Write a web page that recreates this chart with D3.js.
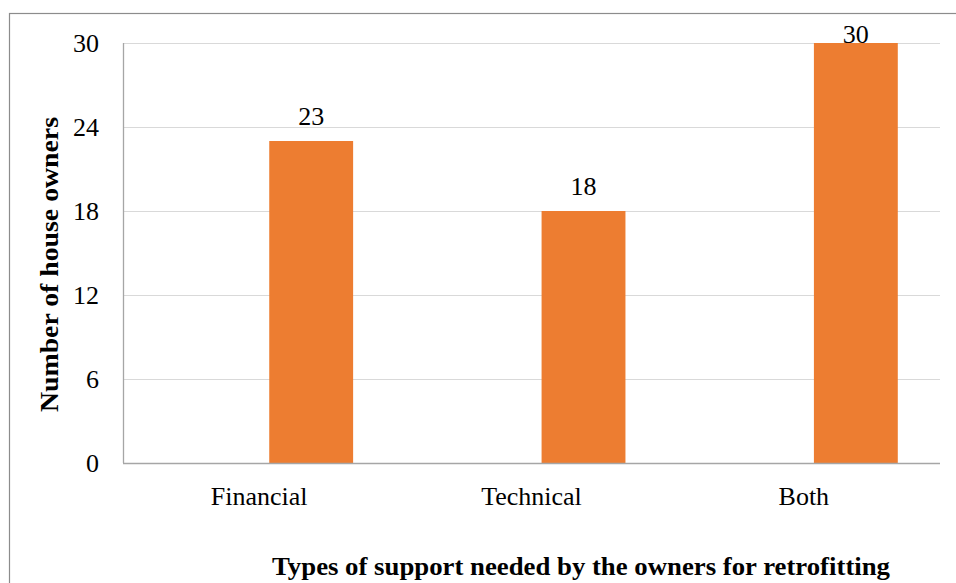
<!DOCTYPE html>
<html>
<head>
<meta charset="utf-8">
<script src="https://cdn.jsdelivr.net/npm/d3@7"></script>
<style>
  html, body { margin: 0; padding: 0; background: #fff; }
  svg { display: block; }
</style>
</head>
<body>
<svg id="chart" width="956" height="583"></svg>
<script>
const categories = ["Financial", "Technical", "Both"];
const values = [23, 18, 30];
const yTicks = [0, 6, 12, 18, 24, 30];
const xTitle = "Types of support needed by the owners for retrofitting";
const yTitle = "Number of house owners";

const FONT = "'Liberation Serif', 'Times New Roman', 'DejaVu Serif', serif";
const svg = d3.select("#chart");
const W = 956, H = 583;
const plot = { left: 123, right: 940, top: 43, bottom: 463 };

// outer frame
svg.append("rect")
  .attr("x", 9.5).attr("y", 13.5)
  .attr("width", W + 10).attr("height", H + 10)
  .attr("fill", "none").attr("stroke", "#8c8c8c").attr("stroke-width", 1.2);

const x = d3.scaleBand().domain(categories).range([plot.left, plot.right]).padding(0);
const y = d3.scaleLinear().domain([0, 30]).range([plot.bottom, plot.top]);

// gridlines
svg.append("g").selectAll("line").data(yTicks.filter(d => d > 0)).join("line")
  .attr("x1", plot.left).attr("x2", plot.right)
  .attr("y1", d => Math.round(y(d)) + 0.5).attr("y2", d => Math.round(y(d)) + 0.5)
  .attr("stroke", "#d9d9d9").attr("stroke-width", 1);

// y axis labels
const yAxis = d3.axisLeft(y).tickValues(yTicks).tickSize(0).tickPadding(24);
const gy = svg.append("g").attr("transform", `translate(${plot.left},0)`).call(yAxis)
  .attr("font-family", FONT).attr("font-size", 26);
gy.select(".domain").remove();
gy.selectAll("text").attr("font-family", FONT).attr("font-size", 26)
  .attr("fill", "#000").attr("dy", "0.34em");

// left axis line
svg.append("line")
  .attr("x1", plot.left + 0.5).attr("x2", plot.left + 0.5)
  .attr("y1", plot.top).attr("y2", plot.bottom)
  .attr("stroke", "#a6a6a6").attr("stroke-width", 1.3);

// bars
const step = x.step();
const barOffset = step * 0.5 + step * 0.037;
const barWidth = step * 0.308;
svg.append("g").selectAll("rect").data(values).join("rect")
  .attr("x", (d, i) => x(categories[i]) + barOffset)
  .attr("y", d => y(d))
  .attr("width", barWidth)
  .attr("height", d => y(0) - y(d))
  .attr("fill", "#ed7d31");

// value labels
svg.append("g").selectAll("text").data(values).join("text")
  .attr("x", (d, i) => x(categories[i]) + barOffset + barWidth / 2)
  .attr("y", d => Math.max(y(d) - 16, y(30)))
  .attr("text-anchor", "middle")
  .attr("font-family", FONT).attr("font-size", 26).attr("fill", "#000")
  .text(d => d);

// x axis baseline
svg.append("line")
  .attr("x1", plot.left).attr("x2", plot.right)
  .attr("y1", plot.bottom + 0.5).attr("y2", plot.bottom + 0.5)
  .attr("stroke", "#a6a6a6").attr("stroke-width", 1.3);

// x category labels
const xAxis = d3.axisBottom(x).tickSize(0).tickPadding(0);
const gx = svg.append("g").attr("transform", `translate(0,${plot.bottom})`).call(xAxis)
  .attr("font-family", FONT).attr("font-size", 26);
gx.select(".domain").remove();
gx.selectAll("text").attr("font-family", FONT).attr("font-size", 26)
  .attr("fill", "#000").attr("y", 42).attr("dy", 0);

// axis titles
svg.append("text")
  .attr("x", 581).attr("y", 575)
  .attr("text-anchor", "middle")
  .attr("font-family", FONT).attr("font-size", 25).attr("font-weight", "bold")
  .attr("textLength", 618).attr("lengthAdjust", "spacingAndGlyphs")
  .text(xTitle);

svg.append("text")
  .attr("transform", "translate(58,264.5) rotate(-90)")
  .attr("text-anchor", "middle")
  .attr("font-family", FONT).attr("font-size", 25).attr("font-weight", "bold")
  .attr("textLength", 295).attr("lengthAdjust", "spacingAndGlyphs")
  .text(yTitle);
</script>
</body>
</html>
